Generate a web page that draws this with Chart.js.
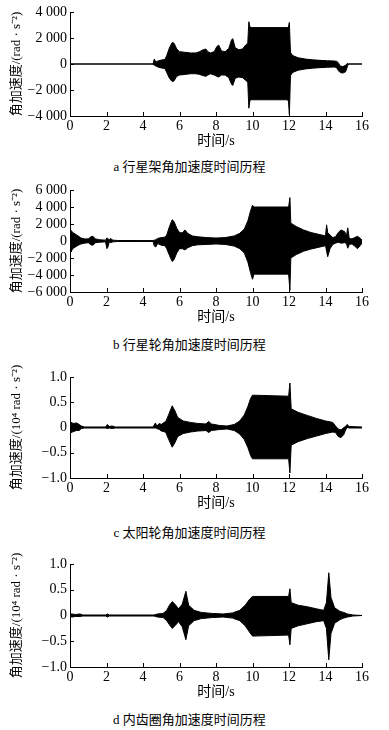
<!DOCTYPE html>
<html>
<head>
<meta charset="utf-8">
<script src="https://cdn.jsdelivr.net/npm/chart.js@4.4.1/dist/chart.umd.min.js"></script>
<style>
  body { margin: 0; background: #fff; width: 389px; height: 730px; position: relative; overflow: hidden; }
  .plot { position: absolute; left: 0; }
  .caption { position: absolute; left: 0; width: 379px; text-align: center; font: 13px "Liberation Serif", "Noto Sans CJK SC", serif; color: #000; line-height: 16px; }
</style>
</head>
<body>
<canvas id="chartA" class="plot"></canvas>
<div class="caption" style="top:159px">a 行星架角加速度时间历程</div>
<canvas id="chartB" class="plot"></canvas>
<div class="caption" style="top:337px">b 行星轮角加速度时间历程</div>
<canvas id="chartC" class="plot"></canvas>
<div class="caption" style="top:525px">c 太阳轮角加速度时间历程</div>
<canvas id="chartD" class="plot"></canvas>
<div class="caption" style="top:712px">d 内齿圈角加速度时间历程</div>
<script>
// envelope of the oscillation: time (s), upper bound, lower bound

// a - planet carrier, rad/s^2
const carrierTime  = [0, 4.55, 4.62, 4.7, 4.85, 5.0, 5.2, 5.3, 5.45, 5.6, 5.7, 5.85, 6.0, 6.3, 6.6, 6.9, 7.1, 7.3, 7.45, 7.55, 7.7, 7.9, 8.05, 8.15, 8.3, 8.5, 8.7, 8.85, 8.92, 9.05, 9.25, 9.45, 9.62, 9.74, 9.8, 9.86, 9.92, 11.9, 11.97, 12.02, 12.08, 12.2, 12.5, 12.9, 13.3, 13.7, 14.1, 14.5, 14.62, 14.7, 14.8, 14.95, 15.1, 15.2, 15.25, 16];
const carrierUpper = [0, 0, 380, 150, 250, 300, 350, 650, 1250, 1650, 1600, 1150, 950, 900, 850, 850, 950, 1100, 1150, 950, 850, 950, 1350, 1450, 1000, 950, 1200, 1850, 1950, 1250, 1100, 1150, 1450, 1600, 3250, 2850, 2800, 2800, 2850, 3200, 900, 650, 480, 380, 320, 280, 250, 230, 200, 100, -150, -200, -100, 50, 0, 0];
const carrierLower = [0, 0, -100, -150, -250, -300, -350, -650, -1100, -1350, -1300, -950, -850, -800, -750, -750, -800, -900, -950, -850, -750, -850, -950, -1000, -850, -850, -1050, -1550, -1650, -1100, -1000, -1050, -1250, -1400, -3400, -2800, -2750, -2750, -2850, -3900, -900, -650, -480, -380, -320, -280, -250, -230, -300, -500, -650, -700, -600, -200, 0, 0];

// b - planet gear, rad/s^2
const planetTime  = [0, 0.05, 0.15, 0.3, 0.45, 0.6, 0.8, 1.0, 1.15, 1.25, 1.4, 1.6, 1.95, 2.02, 2.08, 2.15, 2.22, 2.35, 2.6, 4.55, 4.62, 4.7, 4.8, 5.0, 5.2, 5.3, 5.45, 5.6, 5.7, 5.85, 6.0, 6.15, 6.3, 6.45, 6.7, 7.0, 7.5, 8.0, 8.5, 9.0, 9.3, 9.55, 9.75, 9.9, 10.0, 10.08, 11.98, 12.05, 12.1, 12.4, 12.8, 13.2, 13.6, 14.0, 14.06, 14.12, 14.25, 14.4, 14.55, 14.7, 14.85, 15.05, 15.15, 15.22, 15.3, 15.45, 15.6, 15.75, 15.92, 16];
const planetUpper = [800, 1250, 1000, 800, 600, 350, 250, 250, 500, 550, 250, 150, 100, 350, 300, 100, 300, 100, 60, 50, 100, 150, 300, 400, 450, 700, 1700, 2500, 2300, 1500, 1000, 950, 1300, 900, 600, 500, 400, 350, 400, 600, 900, 1400, 2400, 3600, 4200, 4000, 4000, 5100, 2100, 1700, 1300, 1000, 800, 600, 1900, 1000, 700, 400, 500, 1000, 1300, 1100, 600, 1550, 300, 250, 400, 550, 300, 100];
const planetLower = [-600, -1300, -900, -700, -500, -350, -250, -200, -450, -500, -200, -150, -100, -900, -700, -100, -200, -100, -60, -50, -600, -700, -300, -500, -550, -900, -1700, -2400, -2200, -1400, -900, -900, -1050, -800, -550, -450, -400, -350, -400, -600, -900, -1400, -2500, -3800, -4500, -3900, -3900, -5800, -2000, -1600, -1200, -950, -750, -550, -1200, -1850, -900, -400, -250, -150, -250, -200, -300, -850, -400, -350, -600, -900, -500, -200];

// c - sun gear, 10^4 rad/s^2
const sunTime  = [0, 0.05, 0.2, 0.35, 0.5, 0.62, 0.8, 1.95, 2.05, 2.15, 2.3, 2.5, 4.55, 4.68, 4.75, 4.9, 5.0, 5.15, 5.25, 5.4, 5.6, 5.75, 5.9, 6.2, 6.6, 7.0, 7.45, 7.6, 7.75, 8.2, 8.6, 9.0, 9.3, 9.55, 9.75, 9.9, 10.0, 11.98, 12.05, 12.12, 12.5, 13.0, 13.5, 14.0, 14.4, 14.55, 14.7, 14.85, 15.0, 15.1, 15.18, 15.3, 16];
const sunUpper = [0.02, 0.1, 0.08, 0.09, 0.06, 0.03, 0.01, 0.01, 0.06, 0.02, 0.03, 0.01, 0.01, 0.09, 0.03, 0.08, 0.06, 0.1, 0.12, 0.25, 0.43, 0.33, 0.2, 0.13, 0.1, 0.08, 0.07, 0.12, 0.07, 0.04, 0.03, 0.06, 0.13, 0.25, 0.42, 0.58, 0.64, 0.62, 0.88, 0.37, 0.3, 0.24, 0.18, 0.13, 0.1, 0.03, -0.03, -0.05, 0.0, 0.02, 0.06, 0.02, 0.01];
const sunLower = [-0.02, -0.1, -0.08, -0.06, -0.06, -0.02, -0.01, -0.01, -0.02, -0.01, -0.02, -0.01, -0.01, -0.01, -0.02, -0.04, -0.07, -0.08, -0.1, -0.23, -0.39, -0.3, -0.18, -0.12, -0.09, -0.07, -0.06, -0.1, -0.06, -0.04, -0.03, -0.06, -0.13, -0.24, -0.4, -0.56, -0.62, -0.62, -0.9, -0.35, -0.28, -0.22, -0.17, -0.12, -0.09, -0.1, -0.18, -0.2, -0.14, -0.05, 0.0, -0.01, -0.01];

// d - ring gear, 10^4 rad/s^2
const ringTime  = [0, 0.1, 0.3, 0.55, 0.7, 1.95, 2.05, 2.15, 4.6, 4.8, 5.1, 5.3, 5.45, 5.6, 5.75, 5.95, 6.15, 6.35, 6.5, 6.8, 7.2, 7.8, 8.4, 8.9, 9.3, 9.6, 9.85, 10.0, 11.98, 12.05, 12.12, 12.5, 13.0, 13.5, 13.9, 14.05, 14.18, 14.3, 14.5, 14.8, 15.0, 15.2, 15.5, 16];
const ringUpper = [0.03, 0.03, 0.02, 0.03, 0.01, 0.01, 0.03, 0.01, 0.01, 0.03, 0.04, 0.1, 0.2, 0.27, 0.22, 0.13, 0.22, 0.47, 0.2, 0.1, 0.06, 0.04, 0.03, 0.05, 0.1, 0.2, 0.32, 0.37, 0.37, 0.52, 0.25, 0.2, 0.17, 0.13, 0.1, 0.25, 0.83, 0.35, 0.15, 0.08, 0.06, 0.03, 0.01, 0.0];
const ringLower = [-0.02, -0.03, -0.02, -0.02, -0.01, -0.01, -0.03, -0.01, -0.01, -0.03, -0.04, -0.1, -0.18, -0.25, -0.2, -0.12, -0.22, -0.47, -0.2, -0.1, -0.06, -0.04, -0.03, -0.05, -0.1, -0.2, -0.33, -0.4, -0.38, -0.57, -0.25, -0.2, -0.16, -0.12, -0.1, -0.25, -0.86, -0.35, -0.15, -0.08, -0.05, -0.03, -0.01, 0.0];

const timeTicks = [0, 2, 4, 6, 8, 10, 12, 14, 16];
const radTicks = [-4000, -2000, 0, 2000, 4000];
const radTicksB = [-6000, -4000, -2000, 0, 2000, 4000, 6000];
const scaledTicks = [-1.0, -0.5, 0, 0.5, 1.0];

const FONT = '"Liberation Serif", "Noto Sans CJK SC", serif';
const TOP_PAD = 24;

// ticks pointing into the plot
const inTicks = {
  id: 'inTicks',
  afterDraw(chart) {
    const { ctx, chartArea, scales } = chart;
    ctx.save();
    ctx.strokeStyle = '#000';
    ctx.lineWidth = 1;
    scales.x.ticks.forEach((t, i) => {
      const px = Math.round(scales.x.getPixelForTick(i)) + 0.5;
      ctx.beginPath();
      ctx.moveTo(px, chartArea.bottom);
      ctx.lineTo(px, chartArea.bottom - 4);
      ctx.stroke();
    });
    scales.y.ticks.forEach((t, i) => {
      const py = Math.round(scales.y.getPixelForTick(i)) + 0.5;
      ctx.beginPath();
      ctx.moveTo(chartArea.left, py);
      ctx.lineTo(chartArea.left + 4, py);
      ctx.stroke();
    });
    ctx.restore();
  }
};

function fmtThousands(v) {
  if (v === 0) return '0';
  const s = Math.abs(v).toString().replace(/\B(?=(\d{3})+(?!\d))/g, ' ');
  return (v < 0 ? '\u2212' : '') + s;
}
function fmtScaled(v) {
  if (v === 0) return '0';
  return (v < 0 ? '\u2212' : '') + Math.abs(v).toFixed(1);
}

function makeChart(id, plotTop, plotBottom, time, upper, lower, yTicks, yFmt, yTitle) {
  const canvas = document.getElementById(id);
  canvas.width = 389;
  canvas.height = (plotBottom - plotTop) + TOP_PAD + 34;
  canvas.style.top = (plotTop - TOP_PAD) + 'px';
  const yMin = yTicks[0], yMax = yTicks[yTicks.length - 1];

  return new Chart(canvas, {
    type: 'line',
    data: {
      datasets: [
        {
          data: upper.map((v, i) => ({ x: time[i], y: v })),
          borderColor: '#000',
          backgroundColor: '#000',
          borderWidth: 1,
          pointRadius: 0,
          tension: 0,
          fill: '+1'
        },
        {
          data: lower.map((v, i) => ({ x: time[i], y: v })),
          borderColor: '#000',
          borderWidth: 1,
          pointRadius: 0,
          tension: 0,
          fill: false
        }
      ]
    },
    options: {
      responsive: false,
      animation: false,
      devicePixelRatio: 1,
      layout: { padding: { top: TOP_PAD, right: 27, left: 0, bottom: 0 } },
      plugins: { legend: { display: false }, tooltip: { enabled: false } },
      scales: {
        x: {
          type: 'linear',
          min: 0,
          max: 16,
          afterBuildTicks: (s) => { s.ticks = timeTicks.map(v => ({ value: v })); },
          ticks: { color: '#000', font: { family: FONT, size: 14 }, padding: 2, maxRotation: 0, autoSkip: false, callback: v => v },
          grid: { display: false, drawTicks: false },
          border: { display: true, color: '#000', width: 1 },
          title: { display: true, text: '时间/s', color: '#000', font: { family: FONT, size: 14 }, padding: { top: 0, bottom: 0 } },
          afterFit: (s) => { s.height = 34; }
        },
        y: {
          min: yMin,
          max: yMax,
          afterBuildTicks: (s) => { s.ticks = yTicks.map(v => ({ value: v })); },
          ticks: { color: '#000', font: { family: FONT, size: 14 }, padding: 3, autoSkip: false, callback: yFmt },
          grid: { display: false, drawTicks: false },
          border: { display: true, color: '#000', width: 1 },
          title: { display: true, text: yTitle, color: '#000', font: { family: FONT, size: 13 }, padding: { top: 9, bottom: 0 } },
          afterFit: (s) => { s.width = 70; }
        }
      }
    },
    plugins: [inTicks]
  });
}

makeChart('chartA', 12, 116, carrierTime, carrierUpper, carrierLower, radTicks, fmtThousands, '角加速度/(rad · s⁻²)');
makeChart('chartB', 190, 292, planetTime, planetUpper, planetLower, radTicksB, fmtThousands, '角加速度/(rad · s⁻²)');
makeChart('chartC', 377, 478, sunTime, sunUpper, sunLower, scaledTicks, fmtScaled, '角加速度/(10⁴ rad · s⁻²)');
makeChart('chartD', 564, 667, ringTime, ringUpper, ringLower, scaledTicks, fmtScaled, '角加速度/(10⁴ rad · s⁻²)');
</script>
</body>
</html>
